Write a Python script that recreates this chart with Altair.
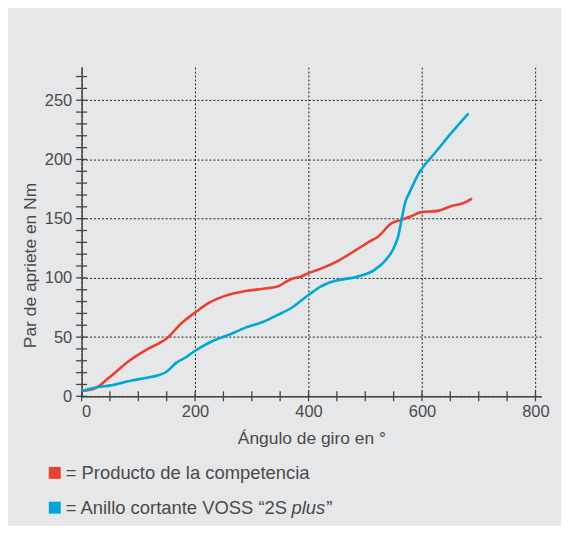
import altair as alt
import pandas as pd

# ---- data ----
angle_red = [0, 25, 49, 84, 113, 149, 178, 201, 225, 254, 289, 324, 347, 358, 371, 385, 400,
             423, 453, 482, 505, 523, 546, 564, 581, 599, 628, 651, 672, 688]
torque_red = [4.5, 7, 16, 30, 39, 48.5, 62.5, 71, 79, 85, 89, 91, 93, 96, 99.3, 100.8, 104,
              108, 114.6, 123, 130, 135, 146, 149, 152, 155.5, 156.6, 160.5, 163, 167]

angle_blue = [0, 32, 49, 90, 113, 137, 149, 166, 184, 201, 230, 260, 289, 318, 347, 371,
              400, 423, 447, 482, 517, 534, 549, 558, 564, 570, 578, 593, 605, 622, 651, 682]
torque_blue = [4.5, 8, 9, 13.5, 15.5, 18, 20.5, 28, 33, 38.7, 46.5, 52, 58, 62.5, 69, 75,
               85.5, 93, 97.5, 100.6, 107, 114, 124, 135, 149, 163, 172, 187, 195.5, 205, 222, 239]

series_names = ["Producto de la competencia", "Anillo cortante VOSS"]
series_colors = ["#e8412f", "#00a7d4"]

x_labels = [0, 200, 400, 600, 800]
y_labels = [0, 50, 100, 150, 200, 250]
x_minor = list(range(0, 801, 50))
y_minor = list(range(0, 271, 10))

W, H = 462, 331
FONT = "Liberation Sans"
TXT = "#4a4a4a"

df = pd.concat([
    pd.DataFrame({"angle": angle_red, "torque": torque_red, "s": series_names[0]}),
    pd.DataFrame({"angle": angle_blue, "torque": torque_blue, "s": series_names[1]}),
])

xscale = alt.Scale(domain=[0, 810], nice=False, zero=False)
yscale = alt.Scale(domain=[0, 278], nice=False, zero=False)
cscale = alt.Scale(domain=series_names, range=series_colors)

xaxis = alt.Axis(values=x_labels, grid=True, gridDash=[2, 2], gridColor="#222", gridWidth=1,
                 ticks=False, labelPadding=7, labelFontSize=16.5, labelColor=TXT, labelFont=FONT,
                 domainColor="#444", domainWidth=1.5, title="Ángulo de giro en °",
                 titleFont=FONT, titleFontSize=17.5, titleFontWeight="normal", titleColor=TXT,
                 titlePadding=10, format="d")
yaxis = alt.Axis(values=y_labels, grid=True, gridDash=[2, 2], gridColor="#222", gridWidth=1,
                 ticks=False, labelPadding=10, labelFontSize=16.5, labelColor=TXT, labelFont=FONT,
                 domainColor="#444", domainWidth=1.5, title="Par de apriete en Nm",
                 titleFont=FONT, titleFontSize=17.5, titleFontWeight="normal", titleColor=TXT,
                 titlePadding=5, titleY=199, format="d")

lines = alt.Chart(df).mark_line(strokeWidth=2.6, interpolate="monotone").encode(
    x=alt.X("angle:Q", scale=xscale, axis=xaxis),
    y=alt.Y("torque:Q", scale=yscale, axis=yaxis),
    color=alt.Color("s:N", scale=cscale, legend=None),
)

xt = alt.Chart(pd.DataFrame({"v": x_minor})).mark_rule(color="#444", strokeWidth=1.3).encode(
    x=alt.X("v:Q", scale=xscale), y=alt.value(H - 5), y2=alt.value(H + 5))
yt = alt.Chart(pd.DataFrame({"v": y_minor})).mark_rule(color="#444", strokeWidth=1.3).encode(
    y=alt.Y("v:Q", scale=yscale), x=alt.value(-5.5), x2=alt.value(5.5))

# custom legend
sq1 = alt.Chart(pd.DataFrame({"s": [series_names[0]]})).mark_rect().encode(
    x=alt.value(-33), x2=alt.value(-21), y=alt.value(402), y2=alt.value(414),
    color=alt.Color("s:N", scale=cscale, legend=None))
sq2 = alt.Chart(pd.DataFrame({"s": [series_names[1]]})).mark_rect().encode(
    x=alt.value(-33), x2=alt.value(-21), y=alt.value(437), y2=alt.value(449),
    color=alt.Color("s:N", scale=cscale, legend=None))

def txt(t, x, y, style="normal"):
    return alt.Chart(pd.DataFrame({"t": [t]})).mark_text(
        align="left", baseline="alphabetic", font=FONT, fontSize=18.5, color=TXT,
        fontStyle=style).encode(text="t:N", x=alt.value(x), y=alt.value(y))

t1 = txt("= Producto de la competencia", -16, 414)
t2 = txt("= Anillo cortante VOSS \u201c2S", -16, 449)
t3 = txt("plus", 211, 449, "italic")
t4 = txt("\u201d", 246, 449)

chart = alt.layer(lines, xt, yt, sq1, sq2, t1, t2, t3, t4).properties(
    width=W, height=H,
    autosize=alt.AutoSizeParams(type="none"),
    padding={"left": 74, "top": 58, "right": 20, "bottom": 129},
    background="#e6e7e9",
).configure_view(strokeWidth=0)

chart.save("out.html", embed_options={"renderer": "svg", "actions": False})
